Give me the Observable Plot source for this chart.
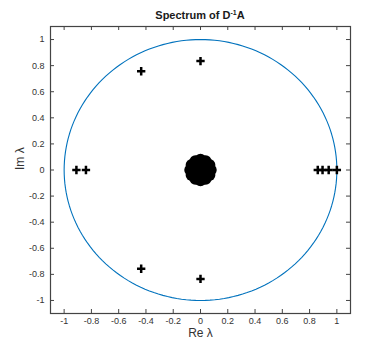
<!DOCTYPE html>
<html>
<head>
<meta charset="utf-8">
<script src="https://cdn.jsdelivr.net/npm/d3@7"></script>
<script src="https://cdn.jsdelivr.net/npm/@observablehq/plot@0.6"></script>
<style>
  body { margin: 0; background: white; }
  #wrap { position: relative; width: 387px; height: 353px; }
  #title { position: absolute; left: 50px; width: 300px; top: 8px; text-align: center;
           font: bold 11px "Liberation Sans", Arial, sans-serif; color: #1a1a1a; line-height: 14px; }
  #title sup { font-size: 7px; vertical-align: 4px; line-height: 0; }
</style>
</head>
<body>
<div id="wrap"><div id="title">Spectrum of D<sup>-1</sup>A</div></div>
<script>
// Isolated eigenvalues (real part, imaginary part)
const outlierRe = [-0.91, -0.84, -0.435, -0.435, 0.0, 0.0, 0.86, 0.895, 0.94, 1.0];
const outlierIm = [0, 0, 0.757, -0.757, 0.835, -0.835, 0, 0, 0, 0];
// Dense cluster of eigenvalues near the origin (estimated)
const clusterRe = [0, 0.075, 0.065, 0.0375, 0, -0.0375, -0.065, -0.075, -0.065, -0.0375, 0, 0.0375, 0.065];
const clusterIm = [0, 0, 0.039, 0.068, 0.078, 0.068, 0.039, 0, -0.039, -0.068, -0.078, -0.068, -0.039];
// Tick values
const xTicks = [-1, -0.8, -0.6, -0.4, -0.2, 0, 0.2, 0.4, 0.6, 0.8, 1];
const yTicks = [-1, -0.8, -0.6, -0.4, -0.2, 0, 0.2, 0.4, 0.6, 0.8, 1];
// Unit circle |λ| = 1, sampled by angle in degrees
const circleDeg = d3.range(0, 361, 2);

const outliers = outlierRe.map((re, i) => ({re, im: outlierIm[i]}));
const cluster = clusterRe.map((re, i) => ({re, im: clusterIm[i]}));
const axisColor = "#444";

const chart = Plot.plot({
  width: 387,
  height: 353,
  marginLeft: 50,
  marginRight: 37,
  marginTop: 26,
  marginBottom: 40,
  style: {fontFamily: "'Liberation Sans', Arial, sans-serif", fontSize: "9px", color: "#333", background: "white"},
  x: {domain: [-1.1, 1.1], ticks: xTicks, tickSize: 0, tickPadding: 4, tickFormat: d => String(d), label: null},
  y: {domain: [-1.1, 1.1], ticks: yTicks, tickSize: 0, tickPadding: 6, tickFormat: d => String(d), label: null},
  marks: [
    Plot.line(circleDeg, {x: t => Math.cos(t * Math.PI / 180), y: t => Math.sin(t * Math.PI / 180), stroke: "#0072BD", strokeWidth: 1.1}),
    Plot.dot(cluster, {x: "re", y: "im", r: 6, fill: "black", stroke: "none"}),
    Plot.dot(outliers, {x: "re", y: "im", symbol: "plus", r: 2.8, stroke: "black", strokeWidth: 2.5}),
    // inward ticks on all four sides
    Plot.tickX(xTicks, {x: d => d, insetTop: 283, stroke: axisColor}),
    Plot.tickX(xTicks, {x: d => d, insetBottom: 283, stroke: axisColor}),
    Plot.tickY(yTicks, {y: d => d, insetRight: 296, stroke: axisColor}),
    Plot.tickY(yTicks, {y: d => d, insetLeft: 296, stroke: axisColor}),
    Plot.frame({stroke: axisColor, strokeWidth: 1.2}),
    Plot.text(["Re λ"], {frameAnchor: "bottom", dy: 23, fontSize: 12, fill: "#333"}),
    Plot.text(["Im λ"], {frameAnchor: "left", dx: -30, rotate: -90, fontSize: 12, fill: "#333"})
  ]
});
document.getElementById("wrap").prepend(chart);
</script>
</body>
</html>
